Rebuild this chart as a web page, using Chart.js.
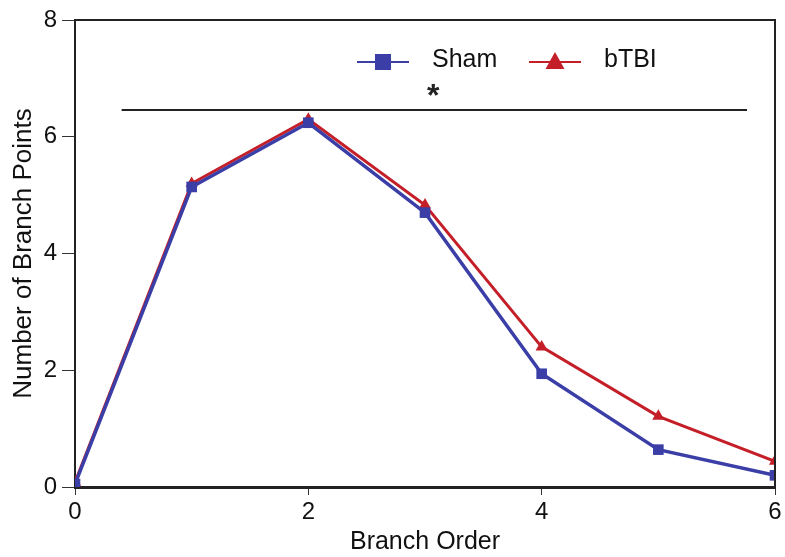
<!DOCTYPE html>
<html>
<head>
<meta charset="utf-8">
<script src="https://cdn.jsdelivr.net/npm/chart.js@4"></script>
<style>
  html, body { margin: 0; padding: 0; background: #fff; }
  #wrap { width: 785px; height: 557px; }
</style>
</head>
<body>
<div id="wrap"><canvas id="branchChart"></canvas></div>
<script>
const branchOrder = [0, 1, 2, 3, 4, 5, 6];
const shamValues = [0.05, 5.14, 6.24, 4.7, 1.94, 0.64, 0.2];
const btbiValues = [0.08, 5.2, 6.3, 4.83, 2.4, 1.21, 0.44];
const xTicks = [0, 2, 4, 6];
const yTicks = [0, 2, 4, 6, 8];
const sigLineX = [0.4, 5.76];
const sigLineY = 6.46;
const sigStar = { x: 3.07, y: 6.8, text: '*' };

const font = 'Liberation Sans, Arial, sans-serif';
const blue = '#3a3ea6';
const red = '#c41f28';

const toPoints = (xs, ys) => xs.map((x, i) => ({ x: x, y: ys[i] }));

// box, star and in-plot legend
const extras = {
  id: 'extras',
  afterDatasetsDraw(chart) {
    const { ctx, chartArea: a, scales } = chart;
    ctx.save();
    ctx.strokeStyle = '#222';
    ctx.lineWidth = 2;
    ctx.beginPath();
    ctx.moveTo(a.left, a.top);
    ctx.lineTo(a.right, a.top);
    ctx.lineTo(a.right, a.bottom);
    ctx.stroke();

    ctx.fillStyle = '#222';
    ctx.font = 'bold 32px ' + font;
    ctx.textAlign = 'center';
    ctx.textBaseline = 'middle';
    ctx.fillText(sigStar.text, scales.x.getPixelForValue(sigStar.x), scales.y.getPixelForValue(sigStar.y) + 7);

    // legend
    const items = [
      { label: 'Sham', color: blue, style: 'rect', x: 357 },
      { label: 'bTBI', color: red, style: 'triangle', x: 529 }
    ];
    const ly = 62;
    items.forEach(it => {
      ctx.strokeStyle = it.color;
      ctx.fillStyle = it.color;
      ctx.lineWidth = 2;
      ctx.beginPath();
      ctx.moveTo(it.x, ly);
      ctx.lineTo(it.x + 52, ly);
      ctx.stroke();
      const cx = it.x + 26;
      ctx.beginPath();
      if (it.style === 'rect') {
        ctx.rect(cx - 8, ly - 8, 16, 16);
      } else {
        ctx.moveTo(cx, ly - 10);
        ctx.lineTo(cx + 9.5, ly + 7);
        ctx.lineTo(cx - 9.5, ly + 7);
        ctx.closePath();
      }
      ctx.fill();
      ctx.fillStyle = '#111';
      ctx.font = '25px ' + font;
      ctx.textAlign = 'left';
      ctx.fillText(it.label, it.x + 75, ly - 2);
    });
    ctx.restore();
  }
};

new Chart(document.getElementById('branchChart'), {
  type: 'line',
  data: {
    datasets: [
      {
        label: 'sig',
        data: toPoints(sigLineX, [sigLineY, sigLineY]),
        borderColor: '#222',
        borderWidth: 2,
        pointRadius: 0
      },
      {
        label: 'Sham',
        data: toPoints(branchOrder, shamValues),
        borderColor: blue,
        backgroundColor: blue,
        borderWidth: 3.5,
        pointStyle: 'rect',
        pointRadius: 7.5,
        pointBorderWidth: 0
      },
      {
        label: 'bTBI',
        data: toPoints(branchOrder, btbiValues),
        borderColor: red,
        backgroundColor: red,
        borderWidth: 3,
        pointStyle: 'triangle',
        pointRadius: 7,
        pointBorderWidth: 0
      }
    ]
  },
  options: {
    responsive: true,
    maintainAspectRatio: false,
    animation: false,
    layout: { padding: { top: 20, right: 10, left: 0, bottom: 0 } },
    scales: {
      x: {
        type: 'linear',
        min: 0,
        max: 6,
        afterBuildTicks: s => { s.ticks = xTicks.map(v => ({ value: v })); },
        afterFit: s => { s.height = 70; },
        grid: { drawOnChartArea: false, drawTicks: true, tickLength: 8, color: '#333', lineWidth: 1 },
        border: { display: true, color: '#222', width: 3 },
        ticks: { color: '#111', font: { size: 24, family: font }, padding: 3 },
        title: { display: true, text: 'Branch Order', color: '#111', font: { size: 25, family: font, lineHeight: 1 }, padding: { top: 0, bottom: 2 } }
      },
      y: {
        min: 0,
        max: 8,
        afterBuildTicks: s => { s.ticks = yTicks.map(v => ({ value: v })); },
        afterFit: s => { s.width = 75; },
        grid: { drawOnChartArea: false, drawTicks: true, tickLength: 13, color: '#333', lineWidth: 1 },
        border: { display: true, color: '#222', width: 2 },
        ticks: { color: '#111', font: { size: 24, family: font }, padding: 5 },
        title: { display: true, text: 'Number of Branch Points', color: '#111', font: { size: 26, family: font, lineHeight: 1.2 }, padding: { top: 8, bottom: 0 } }
      }
    },
    plugins: {
      legend: { display: false },
      tooltip: { enabled: false }
    }
  },
  plugins: [extras]
});
</script>
</body>
</html>
